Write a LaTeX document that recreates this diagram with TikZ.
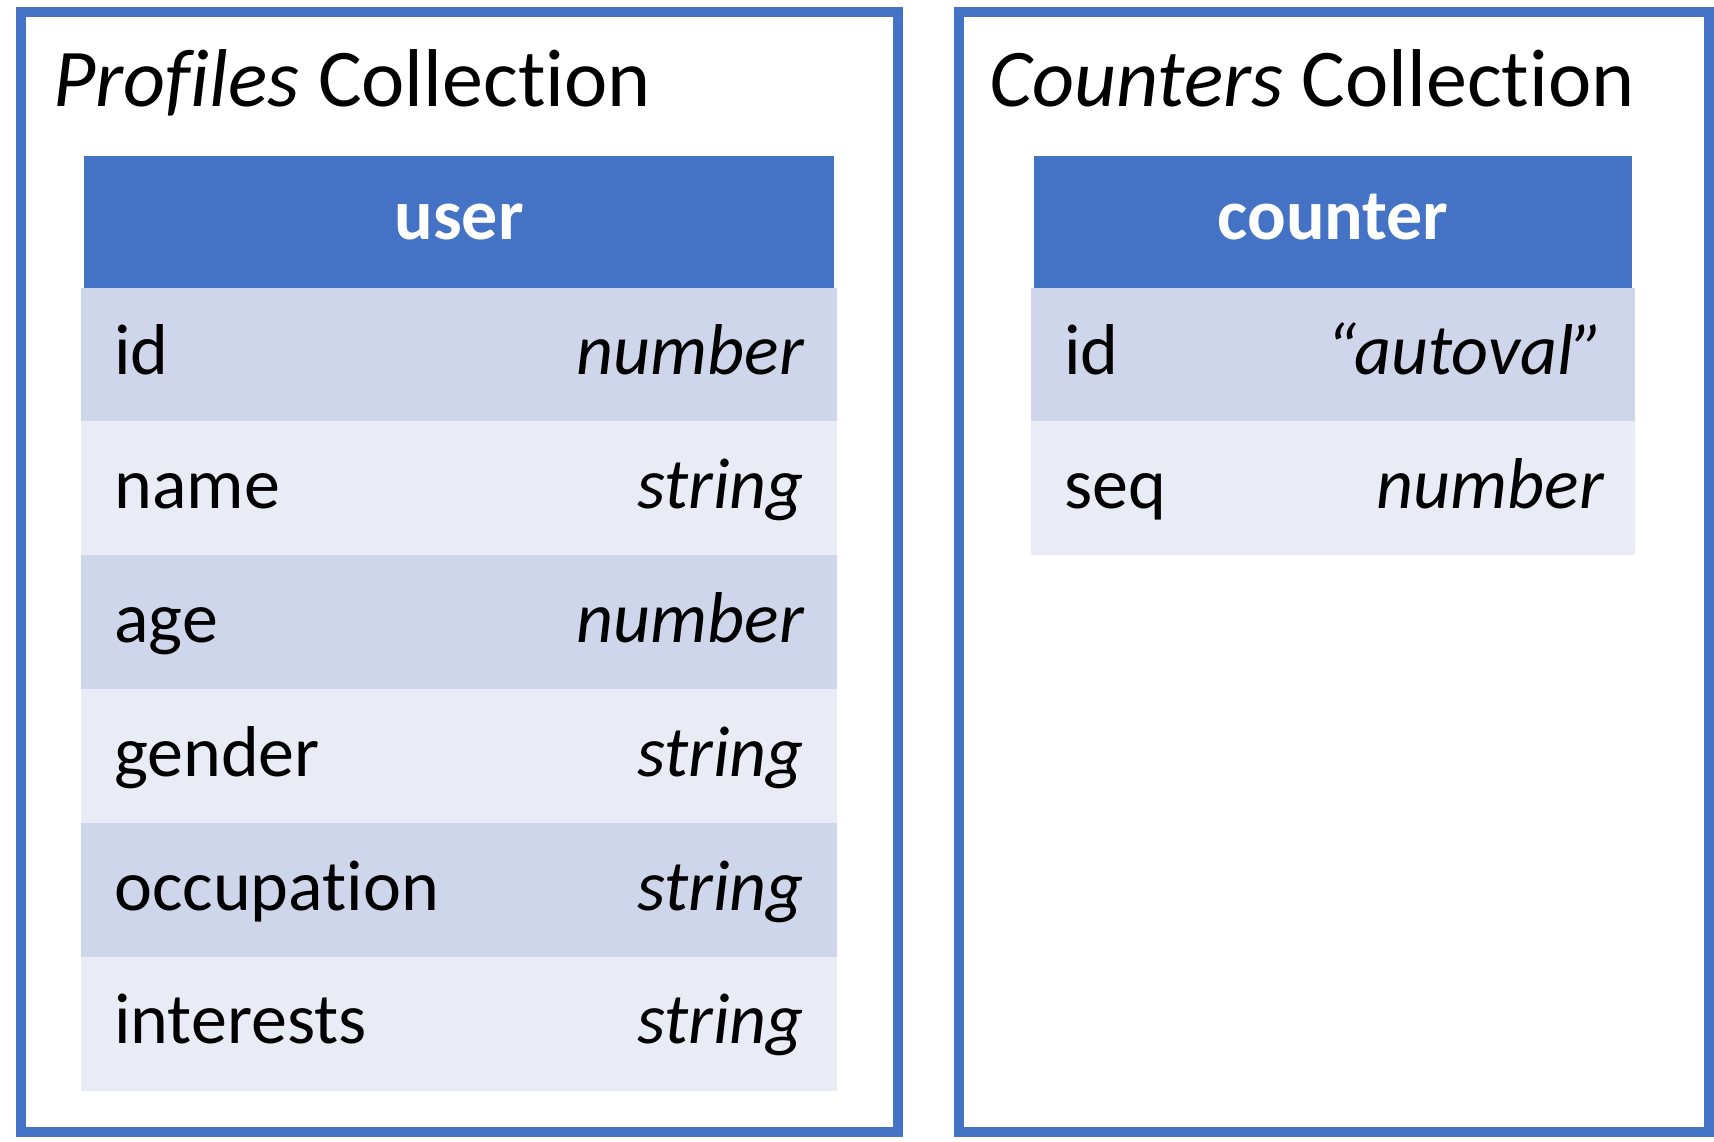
\documentclass[tikz,border=0pt]{standalone}
\usepackage{fontspec}
\setmainfont[Ligatures=NoCommon]{Carlito}
\definecolor{hdrblue}{HTML}{4472C4}
\definecolor{rowdark}{HTML}{CFD5EA}
\definecolor{rowlight}{HTML}{E9EBF5}
\newcommand{\rowfnt}{\fontsize{72}{86}\selectfont}
\newcommand{\ttlfnt}{\fontsize{82}{98}\selectfont}
\tikzset{
  frame/.style={draw=hdrblue, line width=10pt},
  hdrbox/.style={fill=hdrblue, inner sep=0pt, outer sep=0pt, anchor=north west, minimum height=131.5pt},
  rowbox/.style={inner sep=0pt, outer sep=0pt, anchor=north west, minimum height=133.9pt},
  dk/.style={rowbox, fill=rowdark},
  lt/.style={rowbox, fill=rowlight},
  keytxt/.style={font=\rowfnt, inner sep=0pt, anchor=base west},
  valtxt/.style={font=\rowfnt\itshape, inner sep=0pt, anchor=base east},
  hdrtxt/.style={font=\rowfnt\bfseries, text=white, inner sep=0pt, anchor=base},
  ttltxt/.style={font=\ttlfnt, inner sep=0pt, anchor=base west}
}
\begin{document}
\begin{tikzpicture}[x=1pt,y=-1pt]
\useasboundingbox (0,0) rectangle (1714,1141);
% frames
\draw[frame] (21,12.3) rectangle (897.7,1132);
\draw[frame] (959,12.3) rectangle (1708.5,1132);
% titles
\node[ttltxt] (t1) at (53,106.7) {\textit{Profiles} Collection};
\node[ttltxt] (t2) at (989,106.7) {\textit{Counters} Collection};
% user table
\node[hdrbox, minimum width=750pt] (uh) at (84,156) {};
\node[hdrtxt] (uht) at ([yshift=-18pt]uh.center) {user};
\foreach \i/\k/\v/\s in {1/id/number/dk, 2/name/string/lt, 3/age/number/dk, 4/gender/string/lt, 5/occupation/string/dk, 6/interests/string/lt}{
  \node[\s, minimum width=756pt] (u\i) at (81,{287.5+(\i-1)*133.9}) {};
  \node[keytxt] (u\i k) at ([xshift=33pt,yshift=-20pt]u\i.west) {\k};
  \node[valtxt] (u\i v) at ([xshift=-33pt,yshift=-20pt]u\i.east) {\v};
}
% counter table
\node[hdrbox, minimum width=598pt] (ch) at (1034,156) {};
\node[hdrtxt] (cht) at ([yshift=-18pt]ch.center) {counter};
\foreach \i/\k/\v/\s in {1/id/“autoval”/dk, 2/seq/number/lt}{
  \node[\s, minimum width=604pt] (c\i) at (1031,{287.5+(\i-1)*133.9}) {};
  \node[keytxt] (c\i k) at ([xshift=33pt,yshift=-20pt]c\i.west) {\k};
  \node[valtxt] (c\i v) at ([xshift=-31pt,yshift=-20pt]c\i.east) {\v};
}
\end{tikzpicture}
\end{document}
